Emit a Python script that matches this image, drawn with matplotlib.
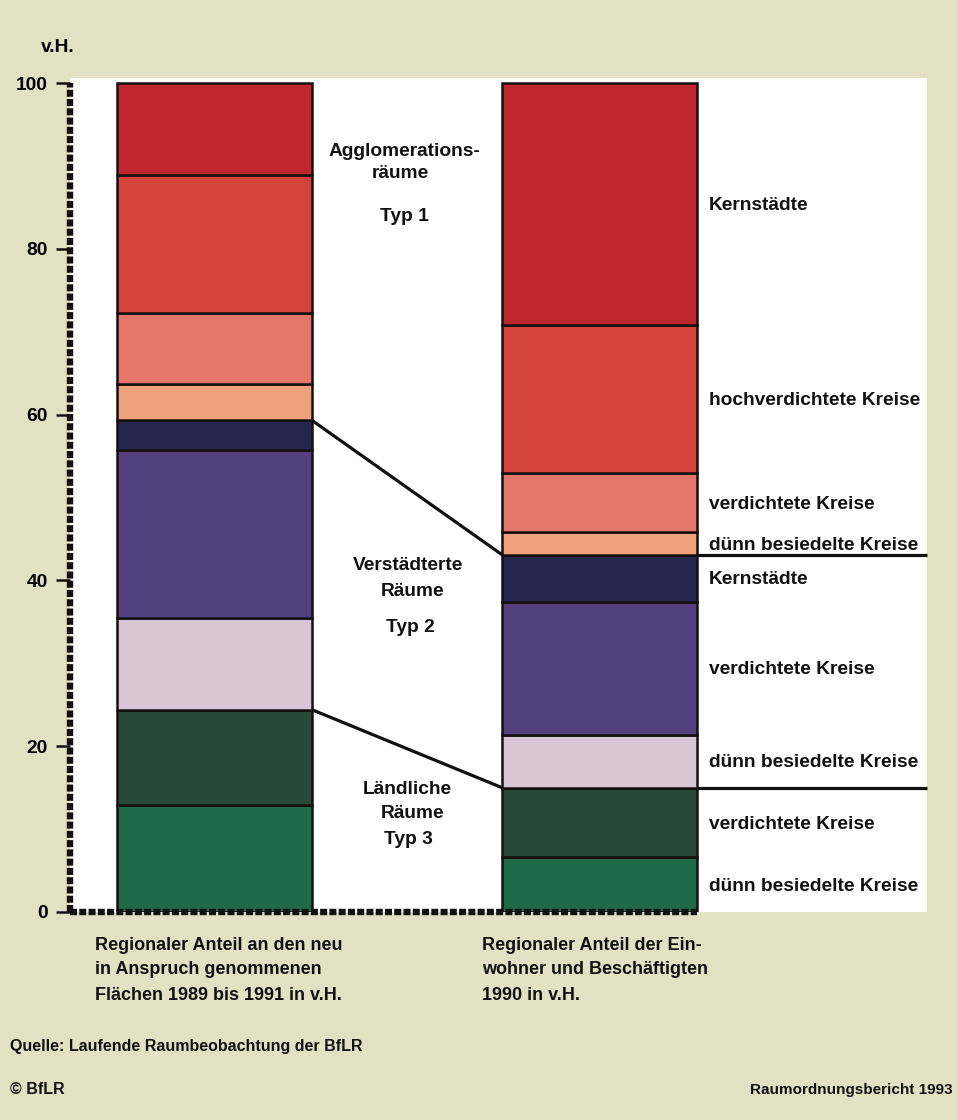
import matplotlib
matplotlib.use("Agg")
import matplotlib.pyplot as plt
import numpy as np

# Data (shares in v.H., stacked bottom -> top)
bands = ["Typ 3 dünn besiedelt", "Typ 3 verdichtet", "Typ 2 dünn besiedelt",
         "Typ 2 verdichtet", "Typ 2 Kernstädte", "Typ 1 dünn besiedelt",
         "Typ 1 verdichtet", "Typ 1 hochverdichtet", "Typ 1 Kernstädte"]
flaechen = [12.9, 11.5, 11.1, 20.2, 3.6, 4.4, 8.6, 16.6, 11.1]
einwohner = [6.6, 8.4, 6.4, 16.0, 5.7, 2.7, 7.2, 17.8, 29.2]
band_labels = ["dünn besiedelte Kreise", "verdichtete Kreise", "dünn besiedelte Kreise",
               "verdichtete Kreise", "Kernstädte", "dünn besiedelte Kreise",
               "verdichtete Kreise", "hochverdichtete Kreise", "Kernstädte"]
colors = ["#1f6a4b", "#28483a", "#d9c6d4", "#52417e", "#25264d",
          "#efa07c", "#e6766a", "#d5443a", "#bf262d"]
yticks = [0, 20, 40, 60, 80, 100]
group_lines = ["Agglomerations-", "räume", "Typ 1",
               "Verstädterte", "Räume", "Typ 2",
               "Ländliche", "Räume", "Typ 3"]
captions = [["Regionaler Anteil an den neu", "in Anspruch genommenen",
             "Flächen 1989 bis 1991 in v.H."],
            ["Regionaler Anteil der Ein-", "wohner und Beschäftigten", "1990 in v.H."]]

plt.rcParams['font.family'] = ['Liberation Sans', 'DejaVu Sans']
plt.rcParams['font.weight'] = 'bold'

W, H = 957, 1120
bg = "#e2e1c3"
fs = 13.8
fig = plt.figure(figsize=(W / 100, H / 100), dpi=100, facecolor=bg)

# axes in pixel geometry
ax_l, ax_r, ax_t, ax_b = 70, 927, 78, 912
ax = fig.add_axes([ax_l / W, (H - ax_b) / H, (ax_r - ax_l) / W, (ax_b - ax_t) / H])
ax.set_facecolor("white")

px_per_unit = 385.0
bar_w = 195 / px_per_unit
ax.set_xlim(-(214.5 - ax_l) / px_per_unit, 1 + (ax_r - 599.5) / px_per_unit)
ax.set_ylim(0, 100 + 5 / 8.29)


def px_x(p):
    return (p - 214.5) / px_per_unit


def px_y(p):
    return (912 - p) / 8.29


xpos = [0, 1]
for i, vals in enumerate([flaechen, einwohner]):
    bottoms = np.concatenate([[0], np.cumsum(vals)[:-1]])
    ax.bar([xpos[i]] * len(vals), vals, bottom=bottoms, width=bar_w,
           color=colors, edgecolor="#151010", linewidth=1.8, zorder=3)

# labels on the right bar
cum_r = np.cumsum(einwohner)
mids = cum_r - np.array(einwohner) / 2
for lab, m in zip(band_labels, mids):
    ax.text(1 + bar_w / 2 + 0.03, m - 0.2, lab, ha="left", va="center",
            fontsize=fs, fontweight="bold", color="#111111")

# connector lines between the region types
cum_l = np.cumsum(flaechen)
for k in [4, 1]:
    xa = xpos[0] + bar_w / 2
    xb = xpos[1] - bar_w / 2
    xc = xpos[1] + bar_w / 2
    ax.plot([xa, xb], [cum_l[k], cum_r[k]], color="#111111", lw=2.3,
            solid_capstyle="butt", zorder=4)
    ax.plot([xc, ax.get_xlim()[1]], [cum_r[k], cum_r[k]], color="#111111",
            lw=2.3, solid_capstyle="butt", zorder=4, clip_on=False)

# group labels, one line at a time
group_px = [(404, 152), (400, 174), (404, 217),
            (408, 565), (413, 592), (410, 628),
            (407, 790), (413, 813), (408, 840)]
for txt, (gx, gy) in zip(group_lines, group_px):
    ax.text(px_x(gx), px_y(gy), txt, ha="center", va="center",
            fontsize=fs, fontweight="bold", color="#111111")

# dashed axis lines
x0 = ax.get_xlim()[0]
for s in ["top", "right", "left", "bottom"]:
    ax.spines[s].set_visible(False)
ax.plot([x0, x0], [0, 100], color="#111111", lw=4.6, dashes=(1.1, 0.35),
        dash_capstyle="butt", clip_on=False, zorder=6)
ax.plot([x0, 1 + bar_w / 2], [0, 0], color="#111111", lw=4.6, dashes=(1.1, 0.35),
        dash_capstyle="butt", clip_on=False, zorder=6)
ax.set_yticks(yticks)
ax.set_yticklabels([str(t) for t in yticks], fontsize=fs, fontweight="bold")
ax.tick_params(axis="y", direction="out", length=10, width=1.8, pad=6, color="#111111")
ax.set_xticks([])

fig.text(58 / W, 1 - 47 / H, "v.H.", ha="center", va="center", fontsize=fs,
         fontweight="bold")

# captions
for cx, lines in zip([95, 482], captions):
    for j, line in enumerate(lines):
        fig.text(cx / W, 1 - (945 + 25 * j) / H, line, ha="left", va="center",
                 fontsize=13, fontweight="bold", color="#111111")
fig.text(10 / W, 1 - 1047 / H, "Quelle: Laufende Raumbeobachtung der BfLR", ha="left",
         va="center", fontsize=11.5, fontweight="bold", color="#111111")
fig.text(10 / W, 1 - 1090 / H, "© BfLR", ha="left", va="center", fontsize=11.5,
         fontweight="bold", color="#111111")
fig.text(953 / W, 1 - 1090 / H, "Raumordnungsbericht 1993", ha="right", va="center",
         fontsize=11, fontweight="bold", color="#111111")

fig.savefig("out.png", dpi=100, facecolor=bg)
